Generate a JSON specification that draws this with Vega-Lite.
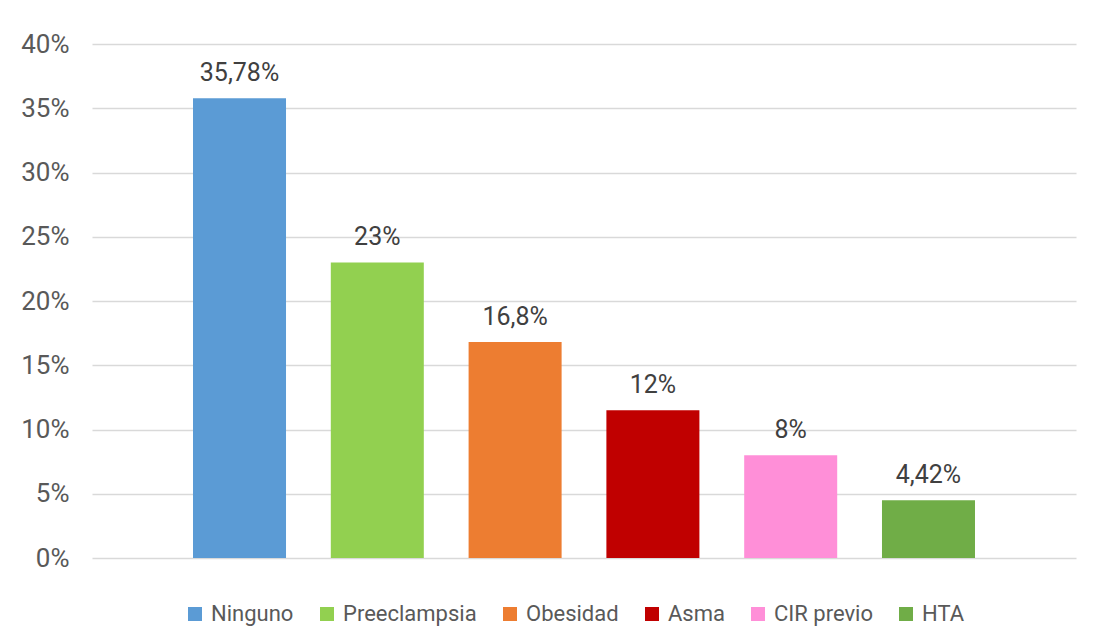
{
  "$schema": "https://vega.github.io/schema/vega-lite/v6.json",
  "autosize": "none",
  "width": 984,
  "height": 514,
  "padding": {"left": 92, "top": 44, "right": 17, "bottom": 86},
  "background": "white",
  "data": {
    "values": [
      {"cat": "Ninguno", "order": 1, "value": 0.3578, "label": "35,78%"},
      {"cat": "Preeclampsia", "order": 2, "value": 0.23, "label": "23%"},
      {"cat": "Obesidad", "order": 3, "value": 0.168, "label": "16,8%"},
      {"cat": "Asma", "order": 4, "value": 0.115, "label": "12%"},
      {"cat": "CIR previo", "order": 5, "value": 0.08, "label": "8%"},
      {"cat": "HTA", "order": 6, "value": 0.045, "label": "4,42%"}
    ]
  },
  "encoding": {
    "x": {
      "field": "cat",
      "type": "nominal",
      "sort": ["Ninguno", "Preeclampsia", "Obesidad", "Asma", "CIR previo", "HTA"],
      "scale": {"paddingInner": 0.325, "paddingOuter": 0.733},
      "axis": null
    },
    "y": {
      "field": "value",
      "type": "quantitative",
      "scale": {"domain": [0, 0.4]},
      "axis": {
        "format": ".0%",
        "values": [0, 0.05, 0.1, 0.15, 0.2, 0.25, 0.3, 0.35, 0.4],
        "title": null,
        "domain": false,
        "ticks": false,
        "labelPadding": 23,
        "labelFont": "Roboto",
        "labelFontSize": 26,
        "labelColor": "#595959",
        "gridColor": "#d9d9d9",
        "gridWidth": 1.5
      }
    }
  },
  "layer": [
    {
      "mark": {"type": "bar"},
      "encoding": {
        "color": {
          "field": "cat",
          "type": "nominal",
          "sort": ["Ninguno", "Preeclampsia", "Obesidad", "Asma", "CIR previo", "HTA"],
          "scale": {
            "domain": ["Ninguno", "Preeclampsia", "Obesidad", "Asma", "CIR previo", "HTA"],
            "range": ["#5B9BD5", "#92D050", "#ED7D31", "#C00000", "#FF8FD8", "#70AD47"]
          },
          "legend": {
            "orient": "none",
            "legendX": 92,
            "legendY": 559,
            "direction": "horizontal",
            "title": null,
            "symbolType": "square",
            "symbolSize": 196,
            "symbolStrokeWidth": 0,
            "labelFont": "Roboto",
            "labelFontSize": 22,
            "labelColor": "#595959",
            "columnPadding": 22,
            "labelOffset": 5
          }
        }
      }
    },
    {
      "mark": {
        "type": "text",
        "baseline": "alphabetic",
        "dy": -17,
        "font": "Roboto",
        "fontSize": 25,
        "color": "#404040"
      },
      "encoding": {
        "text": {"field": "label"}
      }
    }
  ],
  "config": {"view": {"stroke": null}}
}
